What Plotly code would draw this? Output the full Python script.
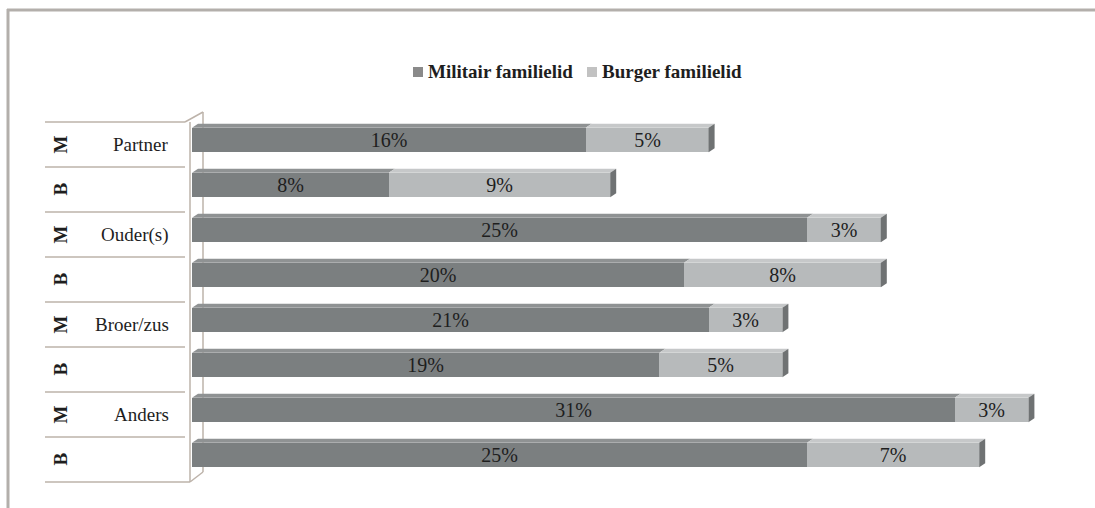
import plotly.graph_objects as go

# ---- data ----
groups = ["Partner", "Ouder(s)", "Broer/zus", "Anders"]
subs = ["M", "B"]
militair = [16, 8, 25, 20, 21, 19, 31, 25]
burger = [5, 9, 3, 8, 3, 5, 3, 7]
series_names = ["Militair familielid", "Burger familielid"]

W, H = 1095, 508
FONT = "Liberation Serif"
FS = 19
TXT = "#1e1e1e"

n = len(militair)
ypos = list(range(n))
row_labels = [s for g in groups for s in subs]

def px(x):
    return x / W

def py(y):
    return 1 - y / H

x0_px = 192
px_per_unit = 24.6
xmax = (W - x0_px) / px_per_unit
y_top_px, y_bot_px = 122, 482
row_px = (y_bot_px - y_top_px) / n

def row_py(r):
    return py(y_top_px + (r + 0.5) * row_px)

off = -0.1
bw = 0.54
dx = 6 / px_per_unit
dy = 4 / row_px

dark, light = "#7b7f80", "#b7babb"
dark_top, light_top = "#8f9293", "#c6c8c9"
side = "#6f7273"
leg_dark, leg_light = "#8a8a8a", "#c2c2c2"

fig = go.Figure()
for vals, name, col in [(militair, series_names[0], dark), (burger, series_names[1], light)]:
    fig.add_trace(go.Bar(
        y=[y + off for y in ypos], x=vals, orientation="h", width=bw,
        name=name, marker=dict(color=col, line=dict(width=0)),
        text=[f"{v}%" for v in vals], textposition="inside",
        insidetextanchor="middle", textangle=0,
        textfont=dict(family=FONT, size=20, color=TXT),
        showlegend=False,
    ))

shapes = []
for i in range(n):
    yc = ypos[i] + off
    yt = yc - bw / 2
    yb = yc + bw / 2
    segs = [(0, militair[i], dark_top), (militair[i], militair[i] + burger[i], light_top)]
    for a, b, c in segs:
        shapes.append(dict(type="path", xref="x", yref="y",
                           path=f"M {a},{yt} L {a+dx},{yt-dy} L {b+dx},{yt-dy} L {b},{yt} Z",
                           fillcolor=c, line=dict(width=0), layer="above"))
    tot = militair[i] + burger[i]
    shapes.append(dict(type="path", xref="x", yref="y",
                       path=f"M {tot},{yt} L {tot+dx},{yt-dy} L {tot+dx},{yb-dy} L {tot},{yb} Z",
                       fillcolor=side, line=dict(width=0), layer="above"))

lc = "#bdb3aa"
for i in range(n + 1):
    shapes.append(dict(type="line", xref="paper", yref="paper",
                       x0=px(45), x1=px(190 if i == n else 185),
                       y0=row_py(i - 0.5), y1=row_py(i - 0.5), line=dict(color=lc, width=1.5)))
wall_dy = 10 / row_px
shapes += [
    dict(type="line", xref="paper", yref="paper", x0=px(190), x1=px(190),
         y0=row_py(-0.5), y1=row_py(n - 0.5), line=dict(color=lc, width=1.5)),
    dict(type="line", xref="paper", yref="paper", x0=px(203), x1=px(203),
         y0=row_py(-0.5 - wall_dy), y1=row_py(n - 0.5 - wall_dy), line=dict(color=lc, width=1.5),
         layer="below"),
    dict(type="line", xref="paper", yref="paper", x0=px(185), x1=px(203),
         y0=row_py(-0.5), y1=row_py(-0.5 - wall_dy), line=dict(color=lc, width=1.5)),
    dict(type="line", xref="paper", yref="paper", x0=px(190), x1=px(203),
         y0=row_py(n - 0.5), y1=row_py(n - 0.5 - wall_dy), line=dict(color=lc, width=1.5)),
]
shapes += [
    dict(type="line", xref="paper", yref="paper", x0=px(8), x1=px(8), y0=py(9), y1=0,
         line=dict(color="#b3afab", width=3)),
    dict(type="line", xref="paper", yref="paper", x0=px(7), x1=1, y0=py(10), y1=py(10),
         line=dict(color="#b3afab", width=3)),
]

annotations = []
for i, s in enumerate(row_labels):
    annotations.append(dict(xref="paper", yref="paper", x=px(60), y=row_py(ypos[i]),
                            text=f"<b>{s}</b>", textangle=-90, showarrow=False,
                            xanchor="center", yanchor="middle",
                            font=dict(family=FONT, size=FS, color=TXT)))
for k, g in enumerate(groups):
    annotations.append(dict(xref="paper", yref="paper", x=px(171), y=row_py(ypos[2 * k]),
                            text=g, showarrow=False, xanchor="right", yanchor="middle",
                            font=dict(family=FONT, size=FS, color=TXT)))

leg_y = 72
leg_items = [(413, series_names[0], leg_dark), (587, series_names[1], leg_light)]
for xs, name, col in leg_items:
    shapes.append(dict(type="rect", xref="paper", yref="paper",
                       x0=px(xs), x1=px(xs + 10), y0=py(leg_y + 5), y1=py(leg_y - 5),
                       fillcolor=col, line=dict(width=0)))
    annotations.append(dict(xref="paper", yref="paper", x=px(xs + 13), y=py(leg_y),
                            text=f"<b>{name}</b>", showarrow=False, xanchor="left", yanchor="middle",
                            font=dict(family=FONT, size=FS, color=TXT)))

fig.update_layout(
    width=W, height=H, margin=dict(l=0, r=0, t=0, b=0),
    paper_bgcolor="white", plot_bgcolor="rgba(0,0,0,0)",
    barmode="stack", bargap=0,
    xaxis=dict(range=[0, xmax], domain=[px(x0_px), 1], visible=False, fixedrange=True),
    yaxis=dict(range=[n - 0.5, -0.5], domain=[py(y_bot_px), py(y_top_px)], visible=False),
    showlegend=False,
    shapes=shapes, annotations=annotations,
    uniformtext=dict(minsize=19, mode="show"),
)

fig.write_html("out.html")
